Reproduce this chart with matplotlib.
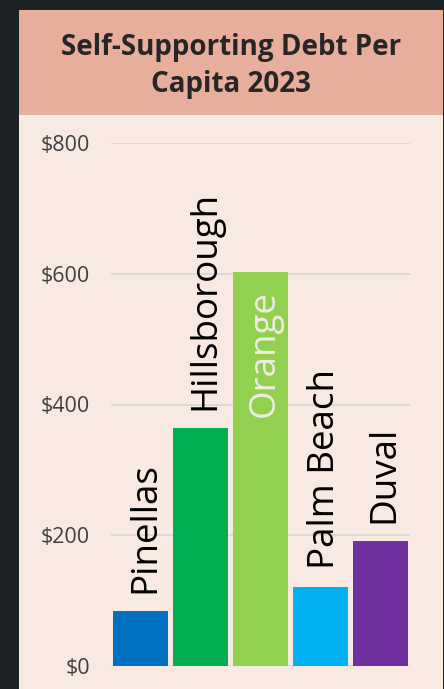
import matplotlib.pyplot as plt
from matplotlib.patches import Rectangle

counties = ['Pinellas', 'Hillsborough', 'Orange', 'Palm Beach', 'Duval']
debt_per_capita = [84, 364, 602, 121, 191]
bar_colors = ['#0070C0', '#00B050', '#92D050', '#00B0F0', '#7030A0']
y_ticks = [0, 200, 400, 600, 800]
y_tick_labels = ['$0', '$200', '$400', '$600', '$800']

W, H = 444, 689
fig = plt.figure(figsize=(W / 100, H / 100), dpi=100)
fig.patch.set_facecolor('#1d2225')

# panel + title band (pixel coords -> figure fraction)
def px(x0, y0, x1, y1):
    return (x0 / W, 1 - y1 / H, (x1 - x0) / W, (y1 - y0) / H)

x, y, w, h = px(19, 10, 443, 689)
fig.patches.append(Rectangle((x, y), w, h, transform=fig.transFigure,
                             facecolor='#F8E9E2', edgecolor='none', zorder=-2))
x, y, w, h = px(19, 10, 443, 115)
fig.patches.append(Rectangle((x, y), w, h, transform=fig.transFigure,
                             facecolor='#E7AE9B', edgecolor='none', zorder=-1))
fig.text(231 / W, 1 - 66 / H, 'Self-Supporting Debt Per\nCapita 2023',
         ha='center', va='center', fontsize=20, fontweight='bold',
         color='#262626', family='Open Sans', linespacing=1.4)

ax = fig.add_axes(px(111, 143, 410, 666))
ax.set_zorder(2)
ax.set_facecolor('none')
pos = range(len(counties))
bars = ax.bar(pos, debt_per_capita, width=0.92, color=bar_colors, zorder=3)
ax.set_xlim(-0.5, len(counties) - 0.5)
ax.set_ylim(0, 800)
ax.set_yticks(y_ticks)
ax.set_yticklabels(y_tick_labels, family='Open Sans', fontsize=15.5, color='#404040')
ax.set_xticks([])
ax.tick_params(axis='y', length=0, pad=15)
ax.grid(axis='y', color='#D9D9D9', linewidth=1.3, zorder=0)
for s in ax.spines.values():
    s.set_visible(False)

for i, (name, val) in enumerate(zip(counties, debt_per_capita)):
    if name == 'Orange':
        ax.annotate(name, (i, val), xytext=(0, -13), textcoords='offset points',
                    rotation=90, rotation_mode='anchor', ha='right', va='center_baseline',
                    fontsize=26.5, color='#EFEDE4', family='Open Sans', zorder=4)
    else:
        ax.annotate(name, (i, val), xytext=(0, 13), textcoords='offset points',
                    rotation=90, rotation_mode='anchor', ha='left', va='center_baseline',
                    fontsize=26.5, color='black', family='Open Sans', zorder=4)

fig.savefig('out.png', dpi=100, facecolor=fig.get_facecolor())
